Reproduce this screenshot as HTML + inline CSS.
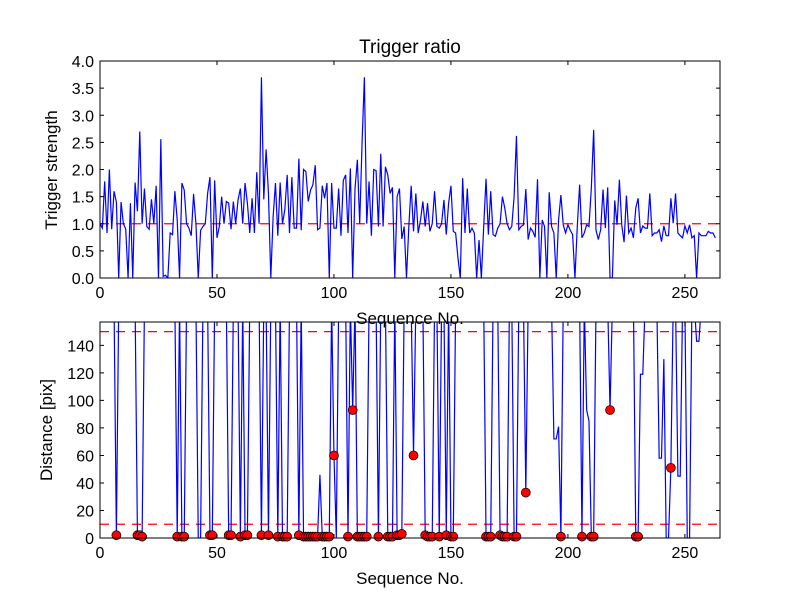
<!DOCTYPE html>
<html><head><meta charset="utf-8"><style>
html,body{margin:0;padding:0;background:#fff;}
svg{display:block;font-family:"Liberation Sans","DejaVu Sans",sans-serif;}
</style></head><body>
<svg id="chart" width="800" height="600" viewBox="0 0 800 600" xmlns="http://www.w3.org/2000/svg">
<rect width="800" height="600" fill="#fff"/>
<defs>
<clipPath id="c1"><rect x="100" y="61" width="620" height="217"/></clipPath>
<clipPath id="c2"><rect x="100" y="322" width="620" height="216"/></clipPath>
</defs>
<text x="410" y="53" font-size="19" text-anchor="middle">Trigger ratio</text>
<g id="top"></g>
<g id="bot"></g>
</svg>
<script>
const xTicks = [0, 50, 100, 150, 200, 250];
const topYTicks = [0, 0.5, 1, 1.5, 2, 2.5, 3, 3.5, 4];
const botYTicks = [0, 20, 40, 60, 80, 100, 120, 140];
const triggerThreshold = [1.0];
const distanceThresholds = [10, 150];
const triggerStrength = [
1.0,0.92,1.78,0.83,2.0,0.9,1.6,1.4,0,1.4,1.0,0.9,0,1.38,0,1.76,1.23,2.7,1.0,1.65,0.95,
0.9,1.45,1.0,1.7,0,2.56,0.03,0.05,0,0.83,0.8,1.6,1.07,0,1.75,1.62,1.0,0.92,0.78,1.55,
1.0,0,0.88,0.95,1.0,1.56,1.86,0,1.8,0.74,0.95,1.5,1.0,1.41,1.38,0.9,1.41,1.0,1.44,1.65,
1.0,1.75,1.38,0.83,1.47,0.83,1.95,1.0,3.7,1.45,2.37,1.56,0,1.13,1.75,0.78,1.76,1.0,1.26,1.9,
0.83,1.86,0.92,0.92,2.2,0.88,2.0,1.96,1.41,1.62,1.72,2.08,0.89,0.92,1.7,1.47,1.75,0,1.75,0.92,
0.92,1.65,0.78,1.8,1.9,0.83,2.02,0,1.65,2.18,1.0,2.48,3.7,1.0,1.78,0.78,2.0,1.98,0.95,2.29,
0.95,2.05,1.9,1.56,1.67,0,1.5,1.65,0.72,0.95,0,0.95,1.7,0.86,1.56,0.83,1.07,1.41,0.95,1.38,
0.86,1.0,1.6,0.95,0.92,1.0,1.44,0.8,1.38,1.7,0.86,0.83,0.37,0,1.84,0.83,1.65,0.83,0.92,0.83,
0,0.7,0,0.95,1.83,0.8,1.6,0.8,0.77,0.92,1.0,1.5,1.29,1.0,0.89,0.95,1.5,2.62,0.89,0.95,
0.98,1.64,0.71,0.92,0.86,0.75,1.82,0,1.07,0.95,0,1.58,0.95,0.83,0,1.07,1.53,0.98,0.83,0.98,
0.88,0.8,0,0.95,1.72,0.74,0.83,0.98,0.95,1.66,2.73,0.88,0.71,0.89,1.63,0.92,1.67,0,0,1.43,
0.98,1.81,0.98,0.66,1.52,0.83,0.92,0.74,1.29,1.47,0.83,0.96,0.92,0.92,1.56,0.78,0.83,0.83,0.89,0.67,
0.96,0.78,0.78,1.47,1.01,1.56,0.83,0.78,0.74,0.96,0.83,0.98,0.74,0.78,0,0.83,0.78,0.78,0.78,0.86,
0.83,0.83,0.74];
const H = 999;
const distance = [
H,H,H,H,H,H,H,2,H,H,H,H,H,H,H,H,2,2,1,H,H,
H,H,H,H,H,H,H,H,H,H,H,H,1,H,1,1,H,H,H,H,
H,0,0,H,H,H,2,2,H,H,H,H,H,H,2,2,H,H,H,1,
H,2,2,H,H,H,H,H,2,H,H,2,H,H,H,1,H,1,1,1,
H,H,H,H,2,H,1,1,1,1,1,1,1,46,1,1,1,1,H,60,
0,H,H,H,H,1,H,93,H,1,1,1,1,1,H,H,H,H,1,H,
H,H,1,1,1,H,2,2,3,H,H,H,H,60,H,H,H,H,2,1,
1,1,H,H,1,H,H,2,H,1,1,H,H,H,H,H,H,H,H,H,
H,H,H,H,1,1,1,H,H,H,2,1,1,1,H,H,1,1,H,H,
H,33,H,H,H,H,H,H,H,H,H,H,H,72,72,81,1,H,H,H,
H,H,H,H,H,1,H,93,85,1,1,H,H,H,H,H,H,93,H,H,
H,H,H,H,H,H,H,H,1,1,119,119,H,H,H,H,H,H,58,58,
130,0,0,51,H,H,45,45,H,H,0,0,H,H,143,143,H,H,H,H,
H,H,H,H];
const detected = [7,16,17,18,33,35,36,47,48,55,56,60,62,63,69,72,76,78,79,80,85,87,88,89,90,91,92,93,95,96,97,98,100,106,108,110,111,112,113,114,119,123,124,125,127,128,129,134,139,140,141,142,145,148,150,151,165,166,167,171,172,173,174,177,178,182,197,206,210,211,218,229,230,244];

const NS = "http://www.w3.org/2000/svg";
const L = 100, R = 720, XMAX = 265;
const xs = v => L + v / XMAX * (R - L);
const y1 = v => 278 - v / 4 * (278 - 61);
const y2 = v => 538 - v / 157 * (538 - 322);
function mk(tag, attrs, parent, txt) {
  const e = document.createElementNS(NS, tag);
  for (const k in attrs) e.setAttribute(k, attrs[k]);
  if (txt !== undefined) e.textContent = txt;
  parent.appendChild(e);
  return e;
}
function axes(g, top, bot, yTicks, yf, yfmt, prefix) {
  const frame = mk("rect", {x: L, y: top, width: R - L, height: bot - top, fill: "none", stroke: "#000", "stroke-width": 1}, g);
  
  
  xTicks.forEach(t => {
    const x = xs(t);
    const tk = mk("path", {d: `M${x},${bot}v-4M${x},${top}v4`, stroke: "#000"}, g);
    
    
    const lb = mk("text", {x: x, y: bot + 20, "font-size": 16, "text-anchor": "middle"}, g, String(t));
    
    
  });
  yTicks.forEach(t => {
    const y = yf(t);
    const tk = mk("path", {d: `M${L},${y}h4M${R},${y}h-4`, stroke: "#000"}, g);
    
    
    const lb = mk("text", {x: L - 6, y: y + 6, "font-size": 16, "text-anchor": "end"}, g, yfmt(t));
    
    
  });
}
function dash(g, y, clip, name) {
  const d = mk("line", {x1: L, x2: R, y1: y, y2: y, stroke: "#f00", "stroke-width": 1.3, "stroke-dasharray": "9,7", "clip-path": clip}, g);
  
  
}
const gt = document.getElementById("top");
triggerThreshold.forEach(v => dash(gt, y1(v), "url(#c1)", "trigger-threshold-line"));
const p1 = mk("polyline", {points: triggerStrength.map((v, i) => xs(i) + "," + y1(v)).join(" "), fill: "none", stroke: "#00f", "stroke-width": 1.2, "clip-path": "url(#c1)"}, gt);


axes(gt, 61, 278, topYTicks, y1, t => t.toFixed(1), "top");
const xl1 = mk("text", {x: 410, y: 324, "font-size": 17, "text-anchor": "middle"}, gt, "Sequence No.");


const yl1 = mk("text", {x: 57, y: 170, "font-size": 17, "text-anchor": "middle", transform: "rotate(-90 57 170)"}, gt, "Trigger strength");


const gb = document.getElementById("bot");
distanceThresholds.forEach(v => dash(gb, y2(v), "url(#c2)", "distance-threshold-line"));
const p2 = mk("polyline", {points: distance.map((v, i) => xs(i) + "," + y2(Math.min(v, 170))).join(" "), fill: "none", stroke: "#00f", "stroke-width": 1.2, "clip-path": "url(#c2)"}, gb);


detected.forEach(i => {
  const c = mk("circle", {cx: xs(i), cy: y2(distance[i]), r: 4.5, fill: "#f00", stroke: "#000", "stroke-width": 0.7}, gb);
  
  
});
axes(gb, 322, 538, botYTicks, y2, t => String(t), "bottom");
const xl2 = mk("text", {x: 410, y: 584, "font-size": 17, "text-anchor": "middle"}, gb, "Sequence No.");


const yl2 = mk("text", {x: 52, y: 430, "font-size": 17, "text-anchor": "middle", transform: "rotate(-90 52 430)"}, gb, "Distance [pix]");


</script>
</body></html>
